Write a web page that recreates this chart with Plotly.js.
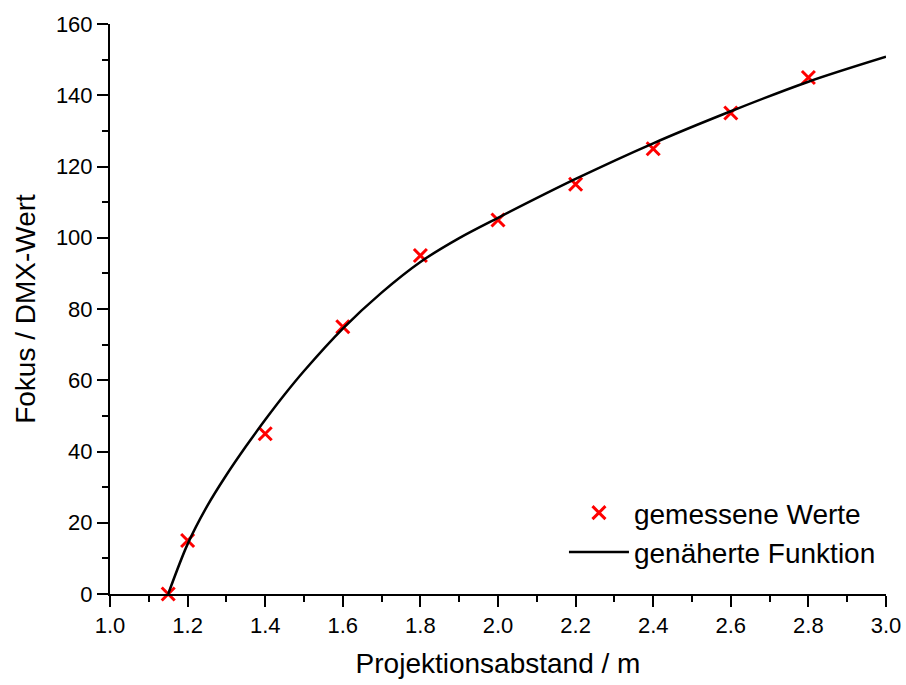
<!DOCTYPE html>
<html>
<head>
<meta charset="utf-8">
<script src="https://cdn.plot.ly/plotly-3.0.1.min.js"></script>
<style>html,body{margin:0;padding:0;background:#fff;}#chart{width:906px;height:685px;}</style>
</head>
<body>
<div id="chart"></div>
<script>
// Measured values
var measX = [1.15, 1.2, 1.4, 1.6, 1.8, 2.0, 2.2, 2.4, 2.6, 2.8];
var measY = [0, 15, 45, 75, 95, 105, 115, 125, 135, 145];

// Fitted curve
var fitX = [1.15, 1.20, 1.25, 1.30, 1.35, 1.40, 1.45, 1.50, 1.60, 1.70, 1.80, 1.90, 2.00, 2.20, 2.40, 2.60, 2.80, 3.00];
var fitY = [0, 14, 24.6, 33.4, 41.4, 48.9, 56.0, 62.6, 74.5, 84.6, 93.2, 99.9, 105.6, 116.5, 126.5, 135.5, 143.8, 150.8];

var xTicks = [1.0, 1.2, 1.4, 1.6, 1.8, 2.0, 2.2, 2.4, 2.6, 2.8, 3.0];
var xTickText = ['1.0', '1.2', '1.4', '1.6', '1.8', '2.0', '2.2', '2.4', '2.6', '2.8', '3.0'];
var yTicks = [0, 20, 40, 60, 80, 100, 120, 140, 160];

var FONT = 'Liberation Sans, Arial, sans-serif';

var traces = [
  {
    x: measX, y: measY, type: 'scatter', mode: 'markers',
    name: 'gemessene Werte',
    marker: {symbol: 'x-thin', size: 13, color: '#ff0000', line: {color: '#ff0000', width: 3}},
    cliponaxis: false
  },
  {
    x: fitX, y: fitY, type: 'scatter', mode: 'lines',
    name: 'genäherte Funktion',
    line: {color: '#000000', width: 2.5, shape: 'spline', smoothing: 0.9},
    cliponaxis: false
  }
];

var axisCommon = {
  showgrid: false, zeroline: false, showline: true, linecolor: '#000', linewidth: 2,
  ticks: 'outside', ticklen: 11, tickwidth: 2, tickcolor: '#000',
  tickfont: {family: FONT, size: 22, color: '#000'}
};

var layout = {
  width: 906, height: 685,
  margin: {l: 110, r: 20, t: 24, b: 91},
  paper_bgcolor: '#fff', plot_bgcolor: '#fff',
  font: {family: FONT, color: '#000'},
  xaxis: Object.assign({}, axisCommon, {
    range: [1.0, 3.0], tickvals: xTicks, ticktext: xTickText,
    minor: {dtick: 0.1, ticks: 'outside', ticklen: 6, tickwidth: 2, tickcolor: '#000', showgrid: false},
    title: {text: 'Projektionsabstand / m', font: {family: FONT, size: 28, color: '#000'}, standoff: 16}
  }),
  yaxis: Object.assign({}, axisCommon, {
    range: [0, 160], tickvals: yTicks,
    minor: {dtick: 10, ticks: 'outside', ticklen: 6, tickwidth: 2, tickcolor: '#000', showgrid: false},
    title: {text: 'Fokus / DMX-Wert', font: {family: FONT, size: 28, color: '#000'}, standoff: 12}
  }),
  showlegend: true,
  legend: {
    x: 0.585, y: 0.186, xanchor: 'left', yanchor: 'top',
    bgcolor: 'rgba(0,0,0,0)', borderwidth: 0,
    font: {family: FONT, size: 28, color: '#000'},
    itemwidth: 60
  }
};

Plotly.newPlot('chart', traces, layout, {displayModeBar: false, staticPlot: true});
</script>
</body>
</html>
